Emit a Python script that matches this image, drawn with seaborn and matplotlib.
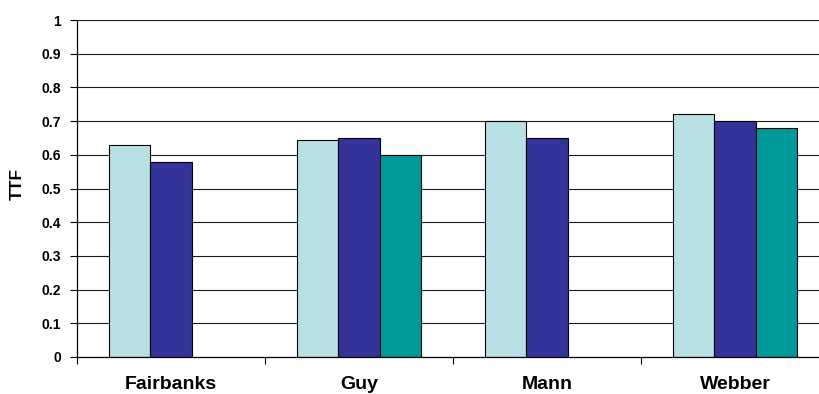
import numpy as np
import pandas as pd
import matplotlib
matplotlib.use("Agg")
import matplotlib.pyplot as plt
import seaborn as sns
from matplotlib.ticker import FixedLocator, FixedFormatter

# Sites on the x axis and the three series (None = no bar for that site)
sites = ["Fairbanks", "Guy", "Mann", "Webber"]
series_names = ["Series 1", "Series 2", "Series 3"]
series_1 = [0.63, 0.645, 0.70, 0.72]
series_2 = [0.58, 0.65, 0.65, 0.70]
series_3 = [None, 0.60, None, 0.68]
y_ticks = [0, 0.1, 0.2, 0.3, 0.4, 0.5, 0.6, 0.7, 0.8, 0.9, 1]
y_tick_labels = ["0", "0.1", "0.2", "0.3", "0.4", "0.5", "0.6", "0.7", "0.8", "0.9", "1"]
colors = ["#B9E0E3", "#333399", "#009999"]

rows = []
for name, vals in zip(series_names, [series_1, series_2, series_3]):
    for site, v in zip(sites, vals):
        if v is not None:
            rows.append({"Site": site, "Series": name, "TTF": v})
df = pd.DataFrame(rows)

sns.set_theme(style="white")
plt.rcParams["font.family"] = ["Liberation Sans", "DejaVu Sans"]
plt.rcParams["text.color"] = "black"
plt.rcParams["xtick.color"] = "black"
plt.rcParams["ytick.color"] = "black"
plt.rcParams["axes.labelcolor"] = "black"

W, H = 819, 394
fig = plt.figure(figsize=(W / 100, H / 100), dpi=100)
left, right, top, bottom = 77, 829, 20, 357
ax = fig.add_axes([left / W, (H - bottom) / H, (right - left) / W, (bottom - top) / H])

# horizontal gridlines drawn under the bars
for y in y_ticks[1:]:
    ax.axhline(y, color="#1a1a1a", linewidth=0.8, zorder=0)

sns.barplot(data=df, x="Site", y="TTF", hue="Series", order=sites,
            hue_order=series_names, palette=colors, width=0.662,
            edgecolor="black", linewidth=0.8, saturation=1, legend=False,
            errorbar=None, ax=ax, zorder=2)

ax.set_xlim(-0.5, 3.5)
ax.set_ylim(0, 1)

ax.yaxis.set_major_locator(FixedLocator(y_ticks))
ax.yaxis.set_major_formatter(FixedFormatter(y_tick_labels))
ax.tick_params(axis="y", direction="out", length=5, width=0.8, colors="black",
               pad=6.5, labelsize=10, left=True)
for lab in ax.get_yticklabels():
    lab.set_fontweight("bold")

# category labels at centres, tick marks on the category boundaries
ax.set_xticks(range(len(sites)))
ax.set_xticklabels(sites, fontsize=14, fontweight="bold", color="black")
ax.tick_params(axis="x", which="major", length=0, pad=14)
ax.xaxis.set_minor_locator(FixedLocator([-0.5, 0.5, 1.5, 2.5, 3.5]))
ax.tick_params(axis="x", which="minor", direction="out", length=5, width=0.8,
               color="black", bottom=True)

ax.set_xlabel("")
ax.set_ylabel("")
fig.text(17 / W, (H - 184) / H, "TTF", rotation=90, ha="center", va="center",
         fontsize=12.5, fontweight="bold", color="black")

for s in ["top", "right"]:
    ax.spines[s].set_visible(False)
for s in ["left", "bottom"]:
    ax.spines[s].set_color("black")
    ax.spines[s].set_linewidth(0.9)

fig.savefig("out.png", dpi=100)
